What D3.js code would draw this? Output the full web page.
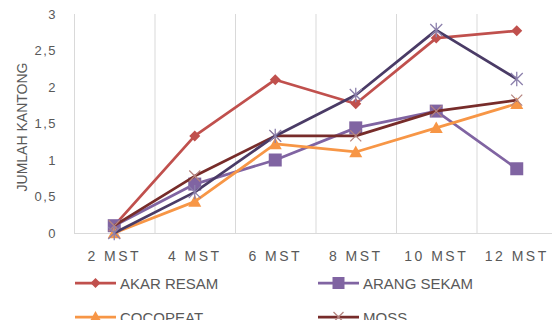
<!DOCTYPE html>
<html>
<head>
<meta charset="utf-8">
<script src="https://cdn.jsdelivr.net/npm/d3@7"></script>
<style>
  html, body { margin: 0; padding: 0; background: #fff; }
  svg { display: block; font-family: "Liberation Sans", "DejaVu Sans", sans-serif; }
</style>
</head>
<body>
<svg id="chart" width="552" height="320"></svg>
<script>
// Weeks after planting
const categories = ["2 MST", "4 MST", "6 MST", "8 MST", "10 MST", "12 MST"];
const yTicks = [0, 0.5, 1, 1.5, 2, 2.5, 3];

// Number of pockets per growing medium
const akarResam  = [0.1, 1.33, 2.1, 1.77, 2.67, 2.77];
const arangSekam = [0.1, 0.67, 1.0, 1.44, 1.67, 0.88];
const cocopeat   = [0.0, 0.43, 1.22, 1.11, 1.44, 1.77];
const moss       = [0.1, 0.78, 1.33, 1.33, 1.67, 1.82];
const series5    = [0.0, 0.56, 1.33, 1.89, 2.78, 2.11];

const seriesNames   = ["AKAR RESAM", "ARANG SEKAM", "COCOPEAT", "MOSS", ""];
const seriesColors  = ["#C0504D", "#8064A2", "#F79646", "#772C2A", "#4A3B66"];
const markerStrokes = ["#C0504D", "#8064A2", "#F79646", "#B5847F", "#8C80AC"];
const seriesMarks   = ["diamond", "square", "triangle", "x", "star"];

const series = [akarResam, arangSekam, cocopeat, moss, series5].map((v, i) => ({
  name: seriesNames[i], values: v, color: seriesColors[i],
  markColor: markerStrokes[i], mark: seriesMarks[i]
}));

const svg = d3.select("#chart");
const plot = { left: 74, right: 557, top: 14, bottom: 233 };

const x = d3.scaleBand().domain(categories).range([plot.left, plot.right]);
const y = d3.scaleLinear().domain([0, 3]).range([plot.bottom, plot.top]);
const cx = c => x(c) + x.bandwidth() / 2;

// vertical gridlines at category boundaries
svg.append("g").selectAll("line")
  .data(categories)
  .join("line")
  .attr("x1", d => x(d) + 0.5).attr("x2", d => x(d) + 0.5)
  .attr("y1", plot.top).attr("y2", plot.bottom)
  .attr("stroke", "#d9d9d9").attr("stroke-width", 1);
svg.append("line")
  .attr("x1", plot.left).attr("x2", plot.right)
  .attr("y1", plot.bottom + 0.5).attr("y2", plot.bottom + 0.5)
  .attr("stroke", "#d9d9d9");

// y axis labels
const yAxis = svg.append("g")
  .attr("transform", `translate(${plot.left - 17},0)`)
  .call(d3.axisLeft(y).tickValues(yTicks).tickSize(0).tickPadding(0)
    .tickFormat(d => String(d).replace(".", ",")));
yAxis.select(".domain").remove();
yAxis.selectAll("text").attr("fill", "#595959").attr("font-size", 13)
  .attr("letter-spacing", 1.5)
  .attr("font-family", "Liberation Sans, sans-serif");

// x axis labels
const xAxis = svg.append("g")
  .attr("transform", `translate(0,${plot.bottom + 15})`)
  .call(d3.axisBottom(x).tickSize(0));
xAxis.select(".domain").remove();
xAxis.selectAll("text").attr("fill", "#595959").attr("font-size", 14)
  .attr("letter-spacing", 2.5)
  .attr("font-family", "Liberation Sans, sans-serif");

// y title
svg.append("text")
  .attr("transform", `translate(27,127) rotate(-90)`)
  .attr("text-anchor", "middle")
  .attr("fill", "#595959").attr("font-size", 14)
  .text("JUMLAH KANTONG");

function markerPath(type, size) {
  const s = size / 2;
  switch (type) {
    case "diamond": return `M0,${-s}L${s},0L0,${s}L${-s},0Z`;
    case "square": return `M${-s},${-s}H${s}V${s}H${-s}Z`;
    case "triangle": return `M0,${-s}L${s},${s * 0.8}L${-s},${s * 0.8}Z`;
    case "x": return `M${-s},${-s}L${s},${s}M${s},${-s}L${-s},${s}`;
    case "star": return `M${-s},${-s}L${s},${s}M${s},${-s}L${-s},${s}M0,${-s * 1.2}V${s * 1.2}`;
  }
}
const markerSize = { diamond: 11, square: 13, triangle: 13, x: 11, star: 12 };
const filled = m => m === "diamond" || m === "square" || m === "triangle";

const line = d3.line()
  .x((d, i) => cx(categories[i]))
  .y(d => y(d));

const gSeries = svg.append("g").selectAll("g")
  .data(series).join("g");

gSeries.append("path")
  .attr("d", d => line(d.values))
  .attr("fill", "none")
  .attr("stroke", d => d.color)
  .attr("stroke-width", 2.75)
  .attr("stroke-linejoin", "round");

gSeries.each(function(s) {
  d3.select(this).selectAll(".m")
    .data(s.values)
    .join("path")
    .attr("class", "m")
    .attr("transform", (d, i) => `translate(${cx(categories[i])},${y(d)})`)
    .attr("d", markerPath(s.mark, markerSize[s.mark]))
    .attr("fill", filled(s.mark) ? s.color : "none")
    .attr("stroke", s.markColor)
    .attr("stroke-width", filled(s.mark) ? 0 : 1.3);
});

// legend (two columns)
const legendSeries = series.filter(d => d.name);
const legendPos = [[75, 283], [318, 283], [75, 317], [318, 317]];
const lg = svg.append("g").selectAll("g")
  .data(legendSeries).join("g")
  .attr("transform", (d, i) => `translate(${legendPos[i][0]},${legendPos[i][1]})`);
lg.append("line")
  .attr("x1", 0).attr("x2", 41)
  .attr("stroke", d => d.color).attr("stroke-width", 2.75);
lg.append("path")
  .attr("transform", "translate(20.5,0)")
  .attr("d", d => markerPath(d.mark, markerSize[d.mark] - 1))
  .attr("fill", d => filled(d.mark) ? d.color : "none")
  .attr("stroke", d => d.markColor)
  .attr("stroke-width", d => filled(d.mark) ? 0 : 1.3);
lg.append("text")
  .attr("x", 45).attr("y", 5.5)
  .attr("fill", "#595959").attr("font-size", 15)
  .text(d => d.name);
</script>
</body>
</html>
